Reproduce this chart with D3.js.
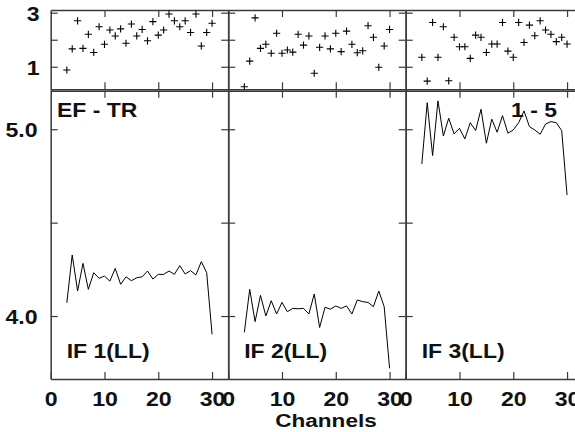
<!DOCTYPE html>
<html><head><meta charset="utf-8">
<script src="https://cdn.jsdelivr.net/npm/d3@7"></script>
<style>
html,body{margin:0;padding:0;background:#fff;}
text{font-family:"Liberation Sans",Arial,Helvetica,sans-serif;font-weight:bold;fill:#111;}
</style></head>
<body>
<script>
const channels = [3,4,5,6,7,8,9,10,11,12,13,14,15,16,17,18,19,20,21,22,23,24,25,26,27,28,29,30];
const panelLabels = ["IF 1(LL)","IF 2(LL)","IF 3(LL)"];
const ratioIF1 = [0.88,1.66,2.70,1.68,2.20,1.53,2.48,1.83,2.36,2.14,2.40,1.87,2.58,2.14,2.38,1.96,2.67,2.17,2.36,2.95,2.70,2.48,2.70,2.27,2.95,1.77,2.27,2.61];
const ratioIF2 = [0.26,1.21,2.81,1.68,1.83,1.50,2.24,1.50,1.62,1.54,2.20,1.80,2.14,0.76,1.72,2.14,1.66,2.24,1.56,2.32,1.83,1.52,1.59,2.52,2.09,0.98,1.77,2.38];
const ratioIF3 = [1.35,0.47,2.64,1.35,2.48,0.48,2.09,1.74,1.74,1.31,2.17,2.09,1.53,1.84,1.84,2.64,1.58,1.35,2.64,1.90,2.54,2.15,2.70,2.36,2.20,1.93,2.09,1.84];
const lineIF1 = [4.071,4.327,4.134,4.282,4.143,4.232,4.202,4.214,4.187,4.255,4.170,4.210,4.189,4.205,4.210,4.241,4.198,4.223,4.223,4.241,4.223,4.270,4.225,4.243,4.220,4.291,4.232,3.902];
const lineIF2 = [3.913,4.143,3.970,4.111,4.000,4.082,4.011,4.073,4.023,4.041,4.039,4.041,4.011,4.118,3.939,4.047,4.037,4.054,4.041,4.054,4.011,4.086,4.077,4.073,4.050,4.134,4.050,3.720];
const lineIF3 = [4.814,5.142,4.859,5.152,4.964,5.059,4.975,5.005,4.948,5.035,4.993,5.107,4.925,5.054,4.984,5.073,4.979,4.996,5.035,5.098,5.014,4.996,4.973,5.028,5.041,5.035,4.993,4.648];
const xTicks = [0,10,20,30];
const topYTicks = [1,2,3];
const topYLabels = [1,3];
const botYTicks = [4.0,4.5,5.0];
const botYLabels = [4.0,5.0];
const xTitle = "Channels";
const topLeftLabel = "EF - TR";
const topRightLabel = "1 - 5";

const ratios = [ratioIF1, ratioIF2, ratioIF3];
const lines = [lineIF1, lineIF2, lineIF3];

const W = 575, H = 432;
const svg = d3.select("body").append("svg").attr("width", W).attr("height", H);
svg.append("rect").attr("width", W).attr("height", H).attr("fill", "#fff");

const left0 = 50.7, pw = 177.5;
const topY0 = 10, midY = 90, botY1 = 379;
const yTop = d3.scaleLinear().domain([0.14, 3.1]).range([midY, topY0]);
const yBot = d3.scaleLinear().domain([3.663, 5.21]).range([botY1, midY]);
const axisColor = "#3a3a3a";

function styleAxis(g) {
  g.select(".domain").attr("stroke", axisColor).attr("stroke-width", 1.5);
  g.selectAll(".tick line").attr("stroke", axisColor).attr("stroke-width", 1.2);
}

function bigText(sel, x, y, str, anchor, size, sx) {
  return sel.append("text")
    .attr("transform", `translate(${x},${y}) scale(${sx},1)`)
    .attr("text-anchor", anchor)
    .style("font-size", size + "px")
    .text(str);
}

for (let i = 0; i < 3; i++) {
  const x0 = left0 + i * pw;
  const x = d3.scaleLinear().domain([0, 33]).range([x0, x0 + pw]);
  const g = svg.append("g");
  const data = channels.map((c, k) => ({c, r: ratios[i][k], v: lines[i][k]}));

  // ---- top panel axes ----
  const tTop = g.append("g").attr("transform", `translate(0,${topY0})`)
    .call(d3.axisTop(x).tickValues(xTicks.slice(1)).tickSize(-7).tickSizeOuter(0).tickFormat(""));
  styleAxis(tTop);
  const tBot = g.append("g").attr("transform", `translate(0,${midY - 0.7})`)
    .call(d3.axisBottom(x).tickValues(xTicks.slice(1)).tickSize(-7).tickSizeOuter(0).tickFormat(""));
  styleAxis(tBot);
  const tL = g.append("g").attr("transform", `translate(${x0},0)`)
    .call(d3.axisLeft(yTop).tickValues(topYTicks).tickSize(-7).tickSizeOuter(0).tickPadding(10)
      .tickFormat(d => (i === 0 && topYLabels.includes(d)) ? d3.format("d")(d) : ""));
  styleAxis(tL);
  tL.selectAll("text").attr("fill", "#111").style("font-size", "21px")
    .attr("transform", "scale(1.1,1)").attr("dy", "0.36em")
    .attr("font-family", null);
  const tR = g.append("g").attr("transform", `translate(${x0 + pw},0)`)
    .call(d3.axisRight(yTop).tickValues(topYTicks).tickSize(-7).tickSizeOuter(0).tickFormat(""));
  styleAxis(tR);

  // ---- bottom panel axes ----
  const bTop = g.append("g").attr("transform", `translate(0,${midY + 0.7})`)
    .call(d3.axisTop(x).tickValues(xTicks.slice(1)).tickSize(-7).tickSizeOuter(0).tickFormat(""));
  styleAxis(bTop);
  const bBot = g.append("g").attr("transform", `translate(0,${botY1})`)
    .call(d3.axisBottom(x).tickValues(xTicks).tickSize(-7).tickSizeOuter(0).tickFormat(d3.format("d")));
  styleAxis(bBot);
  bBot.selectAll("text").attr("fill", "#111").style("font-size", "21px")
    .attr("y", 27).attr("dy", 0).attr("transform", "scale(1.1,1)")
    .attr("x", d => x(d) * 0 ).attr("font-family", null);
  bBot.selectAll(".tick text").attr("transform", null).each(function() {
    d3.select(this).attr("transform", "scale(1.1,1)");
  });
  const bL = g.append("g").attr("transform", `translate(${x0},0)`)
    .call(d3.axisLeft(yBot).tickValues(botYTicks).tickSize(-7).tickSizeOuter(0).tickPadding(12)
      .tickFormat(d => (i === 0 && botYLabels.includes(d)) ? d3.format(".1f")(d) : ""));
  styleAxis(bL);
  bL.selectAll("text").attr("fill", "#111").style("font-size", "21px")
    .attr("transform", "scale(1.1,1)").attr("dy", "0.36em").attr("font-family", null);
  const bR = g.append("g").attr("transform", `translate(${x0 + pw},0)`)
    .call(d3.axisRight(yBot).tickValues(botYTicks).tickSize(-7).tickSizeOuter(0).tickFormat(""));
  styleAxis(bR);

  // ---- plus markers ----
  const s = 3.6;
  g.append("g").selectAll("path").data(data).join("path")
    .attr("d", d => {
      const cx = x(d.c), cy = yTop(d.r);
      return `M${cx - s},${cy}H${cx + s}M${cx},${cy - s}V${cy + s}`;
    })
    .attr("stroke", "#000").attr("stroke-width", 1.1).attr("fill", "none");

  // ---- line ----
  g.append("path").datum(data)
    .attr("d", d3.line().x(d => x(d.c)).y(d => yBot(d.v)))
    .attr("fill", "none").attr("stroke", "#000").attr("stroke-width", 1);

  // panel label
  bigText(g, x0 + 16, 358, panelLabels[i], "start", 20.5, 1.12);
}

bigText(svg, 57, 117.3, topLeftLabel, "start", 20.5, 1.12);
bigText(svg, 557, 116.7, topRightLabel, "end", 20.5, 1.12);
bigText(svg, 326, 426.7, xTitle, "middle", 18.5, 1.22);
</script>
</body></html>
